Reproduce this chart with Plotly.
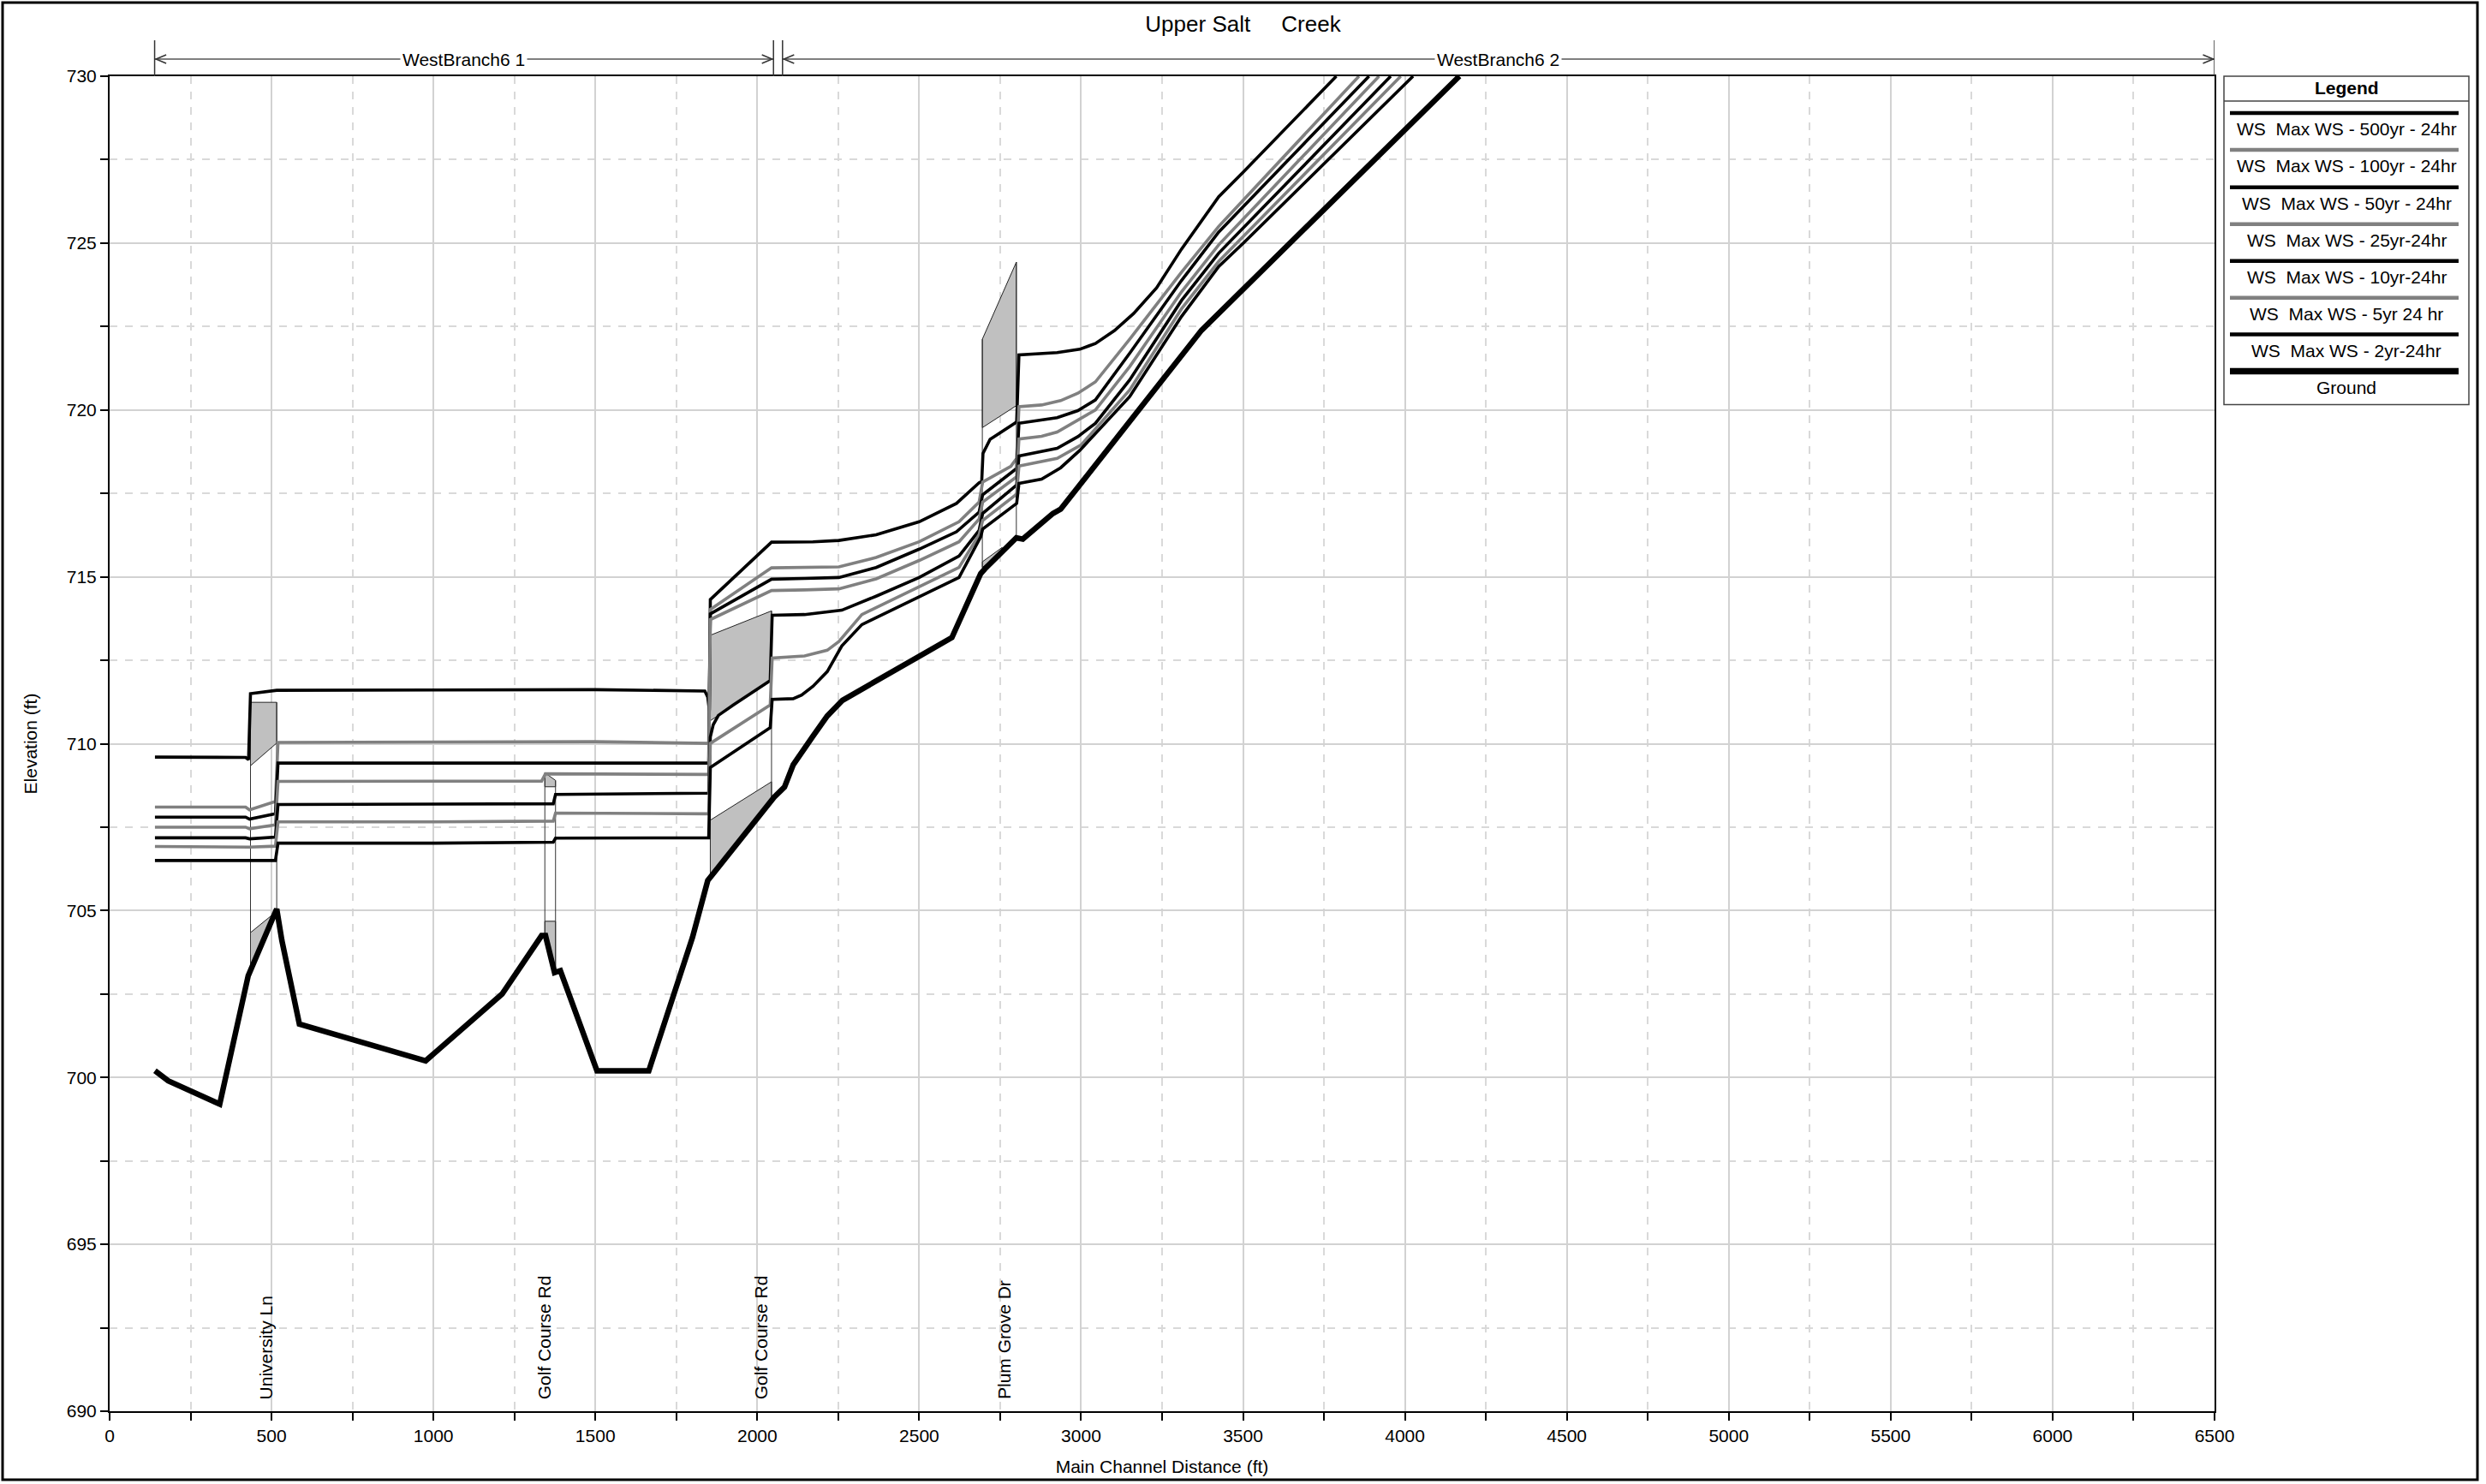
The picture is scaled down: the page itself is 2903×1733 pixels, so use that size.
import plotly.graph_objects as go

# ---------------- data ----------------
ground_x = [140, 181, 340, 428, 516, 532, 586, 976, 1212, 1334, 1346, 1374, 1392, 1505, 1665, 1800, 1847,
            1855, 2044, 2052, 2084, 2111, 2172, 2216, 2263, 2601, 2690, 2703, 2800, 2820, 2913, 2937, 3372, 4168]
ground_y = [700.2, 699.9, 699.2, 703.05, 705.05, 704.1, 701.6, 700.5, 702.5, 704.25, 704.25, 703.14, 703.2,
            700.2, 700.2, 704.2, 705.9, 706.0, 708.35, 708.4, 708.7, 709.37, 710.23, 710.83, 711.3, 713.18,
            715.1, 715.24, 716.17, 716.13, 716.9, 717.03, 722.39, 730.0]

ws500_x = [140, 420, 429, 435, 516, 1000, 1500, 1838, 1847, 1852, 1855, 2044, 2172, 2252, 2367, 2500, 2615,
           2685, 2693, 2697, 2719, 2795, 2801, 2808, 2926, 2996, 3044, 3103, 3162, 3233, 3310, 3425, 3500, 3788]
ws500_y = [709.6, 709.59, 709.52, 711.5, 711.6, 711.6, 711.62, 711.58, 711.4, 711.0, 714.32, 716.04, 716.05,
           716.09, 716.26, 716.65, 717.2, 717.82, 717.85, 718.7, 719.12, 719.6, 719.65, 721.65, 721.72, 721.82,
           721.99, 722.38, 722.89, 723.66, 724.82, 726.39, 727.12, 730.0]

ws100_x = [140, 420, 432, 512, 520, 1000, 1500, 1850, 1855, 2044, 2146, 2252, 2367, 2500, 2623, 2685, 2696,
           2783, 2797, 2801, 2808, 2878, 2937, 2990, 3044, 3150, 3310, 3425, 3858]
ws100_y = [708.1, 708.1, 708.02, 708.27, 710.04, 710.04, 710.06, 710.01, 714.02, 715.27, 715.28, 715.3,
           715.58, 716.05, 716.65, 717.24, 717.84, 718.31, 718.5, 718.55, 720.1, 720.15, 720.28, 720.5,
           720.84, 722.12, 724.13, 725.5, 730.0]

ws50_x = [140, 420, 432, 512, 520, 1000, 1500, 1850, 1855, 2044, 2146, 2252, 2367, 2500, 2615, 2685, 2696,
          2797, 2801, 2808, 2926, 2990, 3044, 3150, 3310, 3425, 3889]
ws50_y = [707.8, 707.8, 707.74, 707.9, 709.42, 709.42, 709.44, 709.42, 713.89, 714.93, 714.95, 714.98,
          715.28, 715.83, 716.35, 716.94, 717.46, 718.2, 718.25, 719.6, 719.77, 719.98, 720.3, 721.7,
          723.88, 725.33, 730.0]

ws25_x = [140, 420, 432, 512, 520, 1000, 1334, 1346, 1850, 1855, 2044, 2146, 2252, 2367, 2500, 2623, 2685,
          2696, 2797, 2801, 2808, 2878, 2926, 2996, 3044, 3150, 3310, 3425, 3920]
ws25_y = [707.5, 707.5, 707.45, 707.57, 708.87, 708.87, 708.88, 709.1, 709.08, 713.72, 714.59, 714.61,
          714.64, 714.94, 715.49, 716.05, 716.73, 717.24, 717.95, 718.0, 719.13, 719.21, 719.34, 719.73,
          720.0, 721.3, 723.54, 724.95, 730.0]

ws10_x = [140, 420, 432, 512, 520, 1000, 1370, 1377, 1850, 1855, 1864, 1880, 1926, 2040, 2046, 2146, 2261,
          2367, 2500, 2623, 2685, 2696, 2797, 2801, 2808, 2926, 2990, 3044, 3150, 3310, 3425, 3956]
ws10_y = [707.18, 707.18, 707.15, 707.2, 708.18, 708.18, 708.2, 708.48, 708.52, 710.2, 710.57, 710.85,
          711.16, 711.89, 713.85, 713.87, 714.0, 714.42, 714.98, 715.62, 716.39, 716.9, 717.7, 717.75,
          718.62, 718.85, 719.2, 719.6, 720.9, 723.28, 724.7, 730.0]

ws5_x = [140, 420, 432, 512, 520, 1000, 1370, 1377, 1850, 1855, 2040, 2046, 2110, 2146, 2216, 2252, 2323,
         2500, 2623, 2685, 2696, 2797, 2801, 2808, 2926, 3000, 3150, 3310, 3425, 3987]
ws5_y = [706.92, 706.92, 706.9, 706.93, 707.66, 707.66, 707.68, 707.92, 707.9, 710.01, 711.16, 712.57,
         712.6, 712.63, 712.8, 713.06, 713.87, 714.7, 715.28, 716.26, 716.69, 717.45, 717.5, 718.32,
         718.55, 718.95, 720.6, 723.03, 724.45, 730.0]

ws2_x = [140, 512, 520, 1000, 1370, 1377, 1850, 1855, 2040, 2046, 2111, 2137, 2172, 2216, 2261, 2323,
         2623, 2690, 2696, 2797, 2801, 2808, 2878, 2937, 2996, 3150, 3310, 3425, 3500, 4025]
ws2_y = [706.5, 706.5, 707.02, 707.02, 707.05, 707.17, 707.18, 709.29, 710.48, 711.33, 711.35, 711.46,
         711.72, 712.16, 712.93, 713.57, 714.98, 716.2, 716.43, 717.15, 717.2, 717.8, 717.93, 718.27,
         718.79, 720.4, 722.8, 724.3, 724.99, 730.0]

profile_names = ["WS  Max WS - 500yr - 24hr", "WS  Max WS - 100yr - 24hr", "WS  Max WS - 50yr - 24hr",
                 "WS  Max WS - 25yr-24hr", "WS  Max WS - 10yr-24hr", "WS  Max WS - 5yr 24 hr",
                 "WS  Max WS - 2yr-24hr"]
ground_name = "Ground"

# structures: deck (high chord / low chord) and lower fill polygons
univ_deck_x = [435, 516, 516, 435]
univ_deck_y = [711.24, 711.24, 710.02, 709.34]
univ_low_x = [435, 516, 516, 435]
univ_low_y = [704.34, 704.98, 705.05, 703.2]
golf1_deck_x = [1344, 1377, 1377, 1344]
golf1_deck_y = [709.13, 708.9, 708.71, 708.71]
golf1_low_x = [1344, 1377, 1377, 1344]
golf1_low_y = [704.68, 704.68, 703.14, 704.25]
culv_deck_x = [1855, 2044, 2044, 1855]
culv_deck_y = [713.25, 713.98, 711.89, 710.69]
culv_low_x = [1855, 2044, 2044, 1855]
culv_low_y = [707.71, 708.86, 708.35, 706.0]
plum_deck_x = [2695, 2800, 2800, 2695]
plum_deck_y = [722.12, 724.43, 720.13, 719.47]
plum_low_x = [2695, 2756, 2756, 2695]
plum_low_y = [715.45, 715.88, 715.75, 715.28]
face_bottom = [703.2, 705.05, 704.25, 703.14, 706.0, 708.35, 715.28, 716.17]

bridge_names = ["University Ln", "Golf Course Rd", "Golf Course Rd", "Plum Grove Dr"]
bridge_label_x = [483, 1342, 2011, 2764]

reach_names = ["WestBranch6 1", "WestBranch6 2"]
reach_start = [139, 2078]
reach_end = [2050, 6500]

title_text = "Upper Salt\u00a0\u00a0\u00a0\u00a0\u00a0Creek"

# ---------------- figure ----------------
W, H = 2903, 1733
L, R, T, B = 128, 2586, 89, 1650
FONT = "Liberation Sans, Arial, sans-serif"


def px(xp):
    return (xp - L) / (R - L)


def py(yp):
    return (B - yp) / (B - T)


fig = go.Figure()

GRAY_FILL = "#c0c0c0"
structs = [(univ_deck_x, univ_deck_y), (univ_low_x, univ_low_y), (golf1_deck_x, golf1_deck_y),
           (golf1_low_x, golf1_low_y), (culv_deck_x, culv_deck_y), (culv_low_x, culv_low_y),
           (plum_deck_x, plum_deck_y), (plum_low_x, plum_low_y)]
for sx, sy in structs:
    fig.add_trace(go.Scatter(x=sx + [sx[0]], y=sy + [sy[0]], mode="lines", fill="toself",
                             fillcolor=GRAY_FILL, line=dict(color="#222222", width=1),
                             hoverinfo="skip", showlegend=False))

# vertical faces of the structures
decks = [(univ_deck_x, univ_deck_y), (golf1_deck_x, golf1_deck_y), (culv_deck_x, culv_deck_y),
         (plum_deck_x, plum_deck_y)]
k = 0
for dx, dy in decks:
    for j in range(2):
        fig.add_trace(go.Scatter(x=[dx[j], dx[j]], y=[face_bottom[k], dy[j]], mode="lines",
                                 line=dict(color="#333333", width=1), hoverinfo="skip",
                                 showlegend=False))
        k += 1

profiles = [(ws500_x, ws500_y), (ws100_x, ws100_y), (ws50_x, ws50_y), (ws25_x, ws25_y),
            (ws10_x, ws10_y), (ws5_x, ws5_y), (ws2_x, ws2_y)]
colors = ["#000000", "#808080", "#000000", "#808080", "#000000", "#808080", "#000000"]
for (wx, wy), nm, c in zip(profiles, profile_names, colors):
    fig.add_trace(go.Scatter(x=wx, y=wy, mode="lines", name=nm,
                             line=dict(color=c, width=3.6), showlegend=False))

fig.add_trace(go.Scatter(x=ground_x, y=ground_y, mode="lines", name=ground_name,
                         line=dict(color="#000000", width=6.5), showlegend=False))

shapes = []
annotations = []

# outer frame
shapes.append(dict(type="rect", xref="paper", yref="paper", x0=px(3), x1=px(2893), y0=py(3), y1=py(1730),
                   line=dict(color="black", width=3), fillcolor="rgba(0,0,0,0)", layer="above"))

# reach annotations above the plot
yl = py(69)
for nm, xs, xe in zip(reach_names, reach_start, reach_end):
    shapes.append(dict(type="line", xref="x", yref="paper", x0=xs, x1=xe, y0=yl, y1=yl,
                       line=dict(color="#555555", width=1.5)))
    for xv in (xs, xe):
        shapes.append(dict(type="line", xref="x", yref="paper", x0=xv, x1=xv, y0=py(47), y1=py(89),
                           line=dict(color="#333333", width=1.5)))
    dxa = 12 * 6500 / (R - L)
    dya = 5 / (B - T)
    shapes.append(dict(type="path", xref="x", yref="paper",
                       path=f"M {xs + 4 + dxa},{yl + dya} L {xs + 4},{yl} L {xs + 4 + dxa},{yl - dya}",
                       line=dict(color="#333333", width=1.5)))
    shapes.append(dict(type="path", xref="x", yref="paper",
                       path=f"M {xe - 4 - dxa},{yl + dya} L {xe - 4},{yl} L {xe - 4 - dxa},{yl - dya}",
                       line=dict(color="#333333", width=1.5)))
    annotations.append(dict(x=(xs + xe) / 2, y=yl, xref="x", yref="paper", text=nm, showarrow=False,
                            bgcolor="white", font=dict(size=21, color="black", family=FONT),
                            xanchor="center", yanchor="middle", borderpad=2))

# bridge labels
for nm, bx in zip(bridge_names, bridge_label_x):
    annotations.append(dict(x=bx, y=690.3, xref="x", yref="y", text=nm, showarrow=False, textangle=-90,
                            xanchor="center", yanchor="bottom", font=dict(size=21, color="black", family=FONT)))

# custom legend box
lx0, lx1 = px(2597), px(2883)
shapes.append(dict(type="rect", xref="paper", yref="paper", x0=lx0, x1=lx1, y0=py(89), y1=py(473),
                   line=dict(color="#444444", width=1.5), fillcolor="white"))
shapes.append(dict(type="line", xref="paper", yref="paper", x0=lx0, x1=lx1, y0=py(118), y1=py(118),
                   line=dict(color="#444444", width=1.5)))
annotations.append(dict(x=(lx0 + lx1) / 2, y=py(103), xref="paper", yref="paper", text="<b>Legend</b>",
                        showarrow=False, font=dict(size=21, color="black", family=FONT),
                        xanchor="center", yanchor="middle"))
line_ys = [132, 175, 219, 262, 305, 348, 391, 434]
text_ys = [151, 194, 238, 281, 324, 367, 410, 453]
leg_names = profile_names + [ground_name]
leg_colors = colors + ["#000000"]
leg_widths = [4.5] * 7 + [7.5]
for nm, c, wdt, ly, ty in zip(leg_names, leg_colors, leg_widths, line_ys, text_ys):
    shapes.append(dict(type="line", xref="paper", yref="paper", x0=px(2604), x1=px(2871), y0=py(ly), y1=py(ly),
                       line=dict(color=c, width=wdt)))
    annotations.append(dict(x=(lx0 + lx1) / 2, y=py(ty), xref="paper", yref="paper", text=nm,
                            showarrow=False, font=dict(size=21, color="black", family=FONT),
                            xanchor="center", yanchor="middle"))

grid_major = "#d2d2d2"
grid_minor = "#d9d9d9"

fig.update_layout(
    width=W, height=H,
    margin=dict(l=L, r=W - R, t=T, b=H - B, pad=0),
    paper_bgcolor="white", plot_bgcolor="white",
    font=dict(family=FONT, size=21, color="black"),
    title=dict(text=title_text, x=0.5, xref="container", y=1 - 28 / H, yref="container",
               xanchor="center", yanchor="middle", font=dict(size=26, color="black", family=FONT)),
    showlegend=False,
    shapes=shapes,
    annotations=annotations,
    xaxis=dict(range=[0, 6500], dtick=500, tick0=0, tickformat="d", showgrid=True, gridcolor=grid_major,
               gridwidth=1.5, ticks="outside", ticklen=9, tickcolor="black", tickwidth=1.5,
               showline=True, linecolor="black", linewidth=2, mirror=True, zeroline=False,
               tickfont=dict(size=21, family=FONT),
               minor=dict(dtick=250, tick0=0, ticks="outside", ticklen=9, tickcolor="black",
                          showgrid=True, gridcolor=grid_minor, griddash="dash", gridwidth=1.5),
               title=dict(text="Main Channel Distance (ft)", standoff=18, font=dict(size=21, family=FONT))),
    yaxis=dict(range=[690, 730], dtick=5, tick0=690, showgrid=True, gridcolor=grid_major, gridwidth=1.5,
               ticks="outside", ticklen=9, tickcolor="black", tickwidth=1.5,
               showline=True, linecolor="black", linewidth=2, mirror=True, zeroline=False,
               tickfont=dict(size=21, family=FONT),
               minor=dict(dtick=2.5, tick0=690, ticks="outside", ticklen=9, tickcolor="black",
                          showgrid=True, gridcolor=grid_minor, griddash="dash", gridwidth=1.5),
               title=dict(text="Elevation (ft)", standoff=28, font=dict(size=21, family=FONT))),
)

fig.write_html("out.html", config={"displayModeBar": False},
               post_script="document.body.style.margin='0px';")
